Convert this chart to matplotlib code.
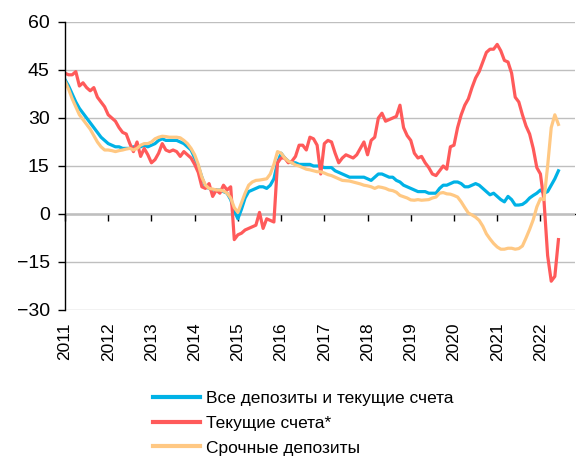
import numpy as np
import matplotlib
matplotlib.use("Agg")
import matplotlib.pyplot as plt

plt.rcParams['font.family'] = ['Liberation Sans', 'DejaVu Sans']

# monthly y/y growth, Jan 2011 - Jun 2022
all_deposits = [
    42, 40, 37.5, 35, 33, 31.5, 30, 28.5, 27, 25.5, 24, 23,
    22, 21.5, 21, 21, 20.5, 20.5, 20.5, 21, 21, 21, 21.5, 21,
    21.5, 22, 23, 23.5, 23, 23, 23, 23, 22.5, 22, 21, 20,
    17.5, 15, 11.5, 8.5, 8, 7.5, 7.5, 7.5, 7, 6.5, 4.5, 1,
    -1.5, 1.5, 5, 7, 7.5, 8, 8.5, 8.5, 8, 9, 11, 16,
    19, 17.5, 16.5, 16, 16, 15.5, 15.5, 15.5, 15.5, 15, 15, 15,
    14.5, 14.5, 14.5, 13.5, 13, 12.5, 12, 11.5, 11.5, 11.5, 11.5, 11.5,
    11, 10.5, 11.5, 12.5, 12.5, 12, 11.5, 11.5, 10.5, 10, 9, 8.5,
    8, 7.5, 7, 7, 7, 6.5, 6.5, 6.5, 8, 9, 9, 9.5,
    10, 10, 9.5, 8.5, 8.5, 9, 9.5, 9, 8, 7, 6, 6.5,
    5.5, 4.5, 3.8, 5.5, 4.5, 2.8, 2.8, 3, 3.8, 5, 5.8, 6.5,
    7.5, 6.5, 7, 9, 11, 13.5,
]
current_accounts = [
    44, 43.5, 43.5, 44.5, 40, 41, 39.5, 38.5, 39.5, 36.5, 35, 33.5,
    31, 30, 29, 27, 25.5, 25, 22, 19.5, 22.5, 18, 20.5, 18.5,
    16, 17, 19, 22, 20, 19.5, 20, 19.5, 18, 19.5, 18.5, 17.5,
    15.5, 13, 8.5, 8, 9.5, 5.5, 7.5, 6.5, 9, 7.5, 8.5, -8,
    -6.5, -6, -5, -4.5, -4, -3.5, 0.5, -4.5, -1.5, -2, -2.5, 16,
    17.5, 17.5, 16, 16.5, 18, 21.5, 21.5, 20, 24, 23.5, 21.5, 12.5,
    22, 23, 22.5, 19, 16, 17.5, 18.5, 18, 17.5, 18.5, 20.5, 22.5,
    18.5, 23, 24, 30, 31.5, 29, 29.5, 30, 30.5, 34, 27, 24.5,
    23, 19, 17.5, 18, 16, 14.5, 12.5, 12, 13.5, 15, 14, 21,
    21.5, 27, 31, 34, 36, 39.5, 42.5, 44.5, 47.5, 50.5, 51.5, 51.5,
    53, 51, 48, 47.5, 44, 36.5, 35, 31, 27.5, 25, 20.5, 14.5,
    12.5, 4, -13, -21, -19.5, -8,
]
term_deposits = [
    41.5, 39, 36, 33.5, 31, 29.5, 28, 26.5, 24.5, 22.5, 21, 20,
    20, 19.8, 19.5, 19.8, 20, 20.3, 20.5, 20, 20.5, 21.5, 22, 22,
    22.5, 23.5, 24, 24.3, 24.2, 24, 24, 24, 23.8, 23, 22, 20.5,
    18.5, 15.5, 11.5, 9, 8, 7.8, 7.5, 7.5, 7.2, 6.5, 5, 2,
    0.5, 3.5, 6.5, 9, 10, 10.5, 10.6, 10.8, 11, 12.5, 15.5, 19.5,
    19, 17.5, 16.5, 16, 15.3, 15, 14.5, 14, 13.8, 13.5, 13.2, 13.2,
    12.8, 12.3, 12, 11.5, 11, 10.5, 10.4, 10.3, 10, 9.7, 9.4, 9,
    8.8, 8.5, 8, 8.5, 8.3, 8, 7.5, 7.3, 6.8, 5.8, 5.4, 5,
    4.4, 4.3, 4.5, 4.3, 4.4, 4.5, 5, 5.3, 6.5, 6.7, 6.3, 6.2,
    5.8, 5.3, 3.8, 2, 0.3, -0.3, -1, -2, -3.8, -6.2, -7.8, -9.2,
    -10.3, -11, -11, -10.7, -10.7, -11, -10.8, -10, -7.5, -4.8, -1.8, 2.2,
    4.8, 4.5, 15, 27, 31, 28,
]
labels = ["Все депозиты и текущие счета", "Текущие счета*", "Срочные депозиты"]
colors = ["#00B2E6", "#FF5A5A", "#FFC883"]
years = list(range(2011, 2023))

x = 2011 + np.arange(len(all_deposits)) / 12

fig = plt.figure(figsize=(5.76, 4.62), dpi=100)
ax = fig.add_axes([65 / 576, 1 - 310 / 462, 510 / 576, 288 / 462])

for series, lab, col in zip([all_deposits, current_accounts, term_deposits], labels, colors):
    ax.plot(x, series, color=col, lw=2.3, label=lab, solid_joinstyle='round')

ax.set_ylim(-30, 60)
ax.set_yticks(range(-30, 61, 15))
ax.set_xlim(2011, 2022.8)
ax.set_xticks(years)
ax.set_xticklabels([str(y) for y in years], rotation=90, fontsize=12.5)
ax.tick_params(axis='x', length=0, pad=9)
ax.tick_params(axis='y', length=5, width=1, pad=6, labelsize=14)
ax.grid(axis='y', color='#BFBFBF', lw=1)
ax.set_axisbelow(True)
for s in ['top', 'right', 'bottom']:
    ax.spines[s].set_visible(False)
ax.spines['left'].set_linewidth(1)

# zero line with year ticks
sec = ax.secondary_xaxis(1 / 3)
sec.set_xticks(years)
sec.tick_params(axis='x', length=5, width=1, labelbottom=False, labeltop=False)
sec.spines['bottom'].set_linewidth(1)

fig.legend(loc='upper left', bbox_to_anchor=(153 / 576, 1 - 391 / 462),
           frameon=False, fontsize=12.5, handlelength=2.7, handletextpad=0.35,
           labelspacing=0.55, borderpad=0, borderaxespad=0)
for line in fig.legends[0].get_lines():
    line.set_linewidth(3)

fig.savefig("out.png", dpi=100)
